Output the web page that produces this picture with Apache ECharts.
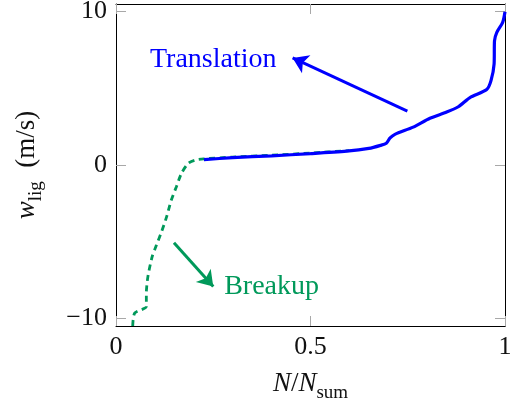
<!DOCTYPE html>
<html>
<head>
<meta charset="utf-8">
<script src="https://cdn.jsdelivr.net/npm/echarts@6/dist/echarts.min.js"></script>
<style>
  html, body { margin: 0; padding: 0; background: #fff; }
  #chart { width: 511px; height: 404px; }
</style>
</head>
<body>
<div id="chart"></div>
<script>
// Translation branch (solid blue)
const translationX = [0.226, 0.30, 0.40, 0.50, 0.593, 0.65, 0.680, 0.695, 0.704, 0.717, 0.764, 0.807, 0.850, 0.880, 0.910, 0.953, 0.964, 0.972, 0.973, 0.979, 0.994, 1.0];
const translationY = [0.35, 0.48, 0.60, 0.74, 0.90, 1.08, 1.28, 1.42, 1.75, 2.00, 2.47, 3.05, 3.45, 3.80, 4.40, 4.92, 5.50, 6.60, 8.10, 8.65, 9.30, 10.0];

// Breakup branch (dashed green)
const breakupX = [0.043, 0.048, 0.078, 0.078, 0.082, 0.093, 0.104, 0.117, 0.130, 0.142, 0.155, 0.168, 0.185, 0.202, 0.226, 0.30, 0.40, 0.50, 0.60];
const breakupY = [-10.5, -9.66, -9.23, -8.36, -7.28, -5.98, -5.22, -4.36, -3.38, -2.30, -1.43, -0.56, 0.09, 0.31, 0.40, 0.52, 0.64, 0.78, 0.94];

// Tick labels
const xTicks = [0, 0.5, 1];
const yTicks = [-10, 0, 10];

// Annotations: arrow [tail, tip] and label anchor
const translationArrow = [[0.749, 3.51], [0.454, 6.98]];
const translationLabel = [0.250, 6.85];
const breakupArrow = [[0.149, -5.07], [0.250, -7.93]];
const breakupLabel = [0.400, -7.93];

const BLUE = '#0000ff';
const GREEN = '#00995a';
const SERIF = '"Liberation Serif", "DejaVu Serif", serif';

const pairs = (xs, ys) => xs.map((x, i) => [x, ys[i]]);
const fmtNum = v => String(v).replace('-', '\u2212');

const tickStyle = { show: true, inside: true, length: 10, lineStyle: { color: '#a8a8a8', width: 1 } };
const frameLine = { show: true, onZero: false, lineStyle: { color: '#000', width: 1 } };

const nameRich = {
  i: { fontFamily: SERIF, fontStyle: 'italic', fontSize: 27, color: '#111', verticalAlign: 'bottom', lineHeight: 30 },
  r: { fontFamily: SERIF, fontSize: 27, color: '#111', verticalAlign: 'bottom', lineHeight: 30 },
  s: { fontFamily: SERIF, fontSize: 19, color: '#111', verticalAlign: 'bottom', lineHeight: 30, padding: [0, 0, -6, 0] }
};

const chart = echarts.init(document.getElementById('chart'), null, { renderer: 'canvas' });

chart.setOption({
  animation: false,
  backgroundColor: '#fff',
  grid: { left: 116, right: 6, top: 4, bottom: 78, containLabel: false, outerBoundsMode: 'none' },
  xAxis: [
    {
      type: 'value', min: 0, max: 1, position: 'bottom',
      axisLine: frameLine,
      axisTick: Object.assign({ customValues: xTicks }, tickStyle),
      axisLabel: { customValues: xTicks, formatter: fmtNum, color: '#111', fontFamily: SERIF, fontSize: 26, margin: 8 },
      splitLine: { show: false },
      name: '{i|N}{r|/}{i|N}{s|sum}',
      nameLocation: 'middle', nameGap: 41,
      nameTextStyle: { color: '#111', fontFamily: SERIF, rich: nameRich }
    },
    {
      type: 'value', min: 0, max: 1, position: 'top',
      axisLine: frameLine,
      axisTick: Object.assign({ customValues: xTicks }, tickStyle),
      axisLabel: { show: false },
      splitLine: { show: false }
    }
  ],
  yAxis: [
    {
      type: 'value', min: -10.5, max: 10.5, position: 'left',
      axisLine: frameLine,
      axisTick: Object.assign({ customValues: yTicks }, tickStyle),
      axisLabel: { customValues: yTicks, formatter: fmtNum, color: '#111', fontFamily: SERIF, fontSize: 26, margin: 9 },
      splitLine: { show: false },
      name: '{i|w}{s|lig}{r|  (m/s)}',
      nameLocation: 'middle', nameRotate: 90, nameGap: 76,
      nameTextStyle: { color: '#111', fontFamily: SERIF, rich: nameRich }
    },
    {
      type: 'value', min: -10.5, max: 10.5, position: 'right',
      axisLine: frameLine,
      axisTick: Object.assign({ customValues: yTicks }, tickStyle),
      axisLabel: { show: false },
      splitLine: { show: false }
    }
  ],
  series: [
    {
      name: 'Breakup', type: 'line', data: pairs(breakupX, breakupY),
      showSymbol: false, smooth: 0.25, z: 2,
      lineStyle: { color: GREEN, width: 2.8, type: [6, 4.5] }
    },
    {
      name: 'Translation', type: 'line', data: pairs(translationX, translationY),
      showSymbol: false, smooth: 0.25, z: 3,
      lineStyle: { color: BLUE, width: 3.2 }
    },
    {
      type: 'lines', coordinateSystem: 'cartesian2d', z: 4,
      symbol: ['none', 'arrow'], symbolSize: 15,
      data: [
        { coords: translationArrow, lineStyle: { color: BLUE, width: 3, opacity: 1 } },
        { coords: breakupArrow, lineStyle: { color: GREEN, width: 3, opacity: 1 } }
      ],
      lineStyle: { opacity: 1 }
    },
    {
      type: 'scatter', symbolSize: 0, z: 5, silent: true,
      itemStyle: { opacity: 1 },
      data: [
        { value: translationLabel, label: { show: true, position: 'inside', formatter: 'Translation', color: BLUE, fontFamily: SERIF, fontSize: 28, opacity: 1 } },
        { value: breakupLabel, label: { show: true, position: 'inside', formatter: 'Breakup', color: GREEN, fontFamily: SERIF, fontSize: 28, opacity: 1 } }
      ]
    }
  ]
});
</script>
</body>
</html>
